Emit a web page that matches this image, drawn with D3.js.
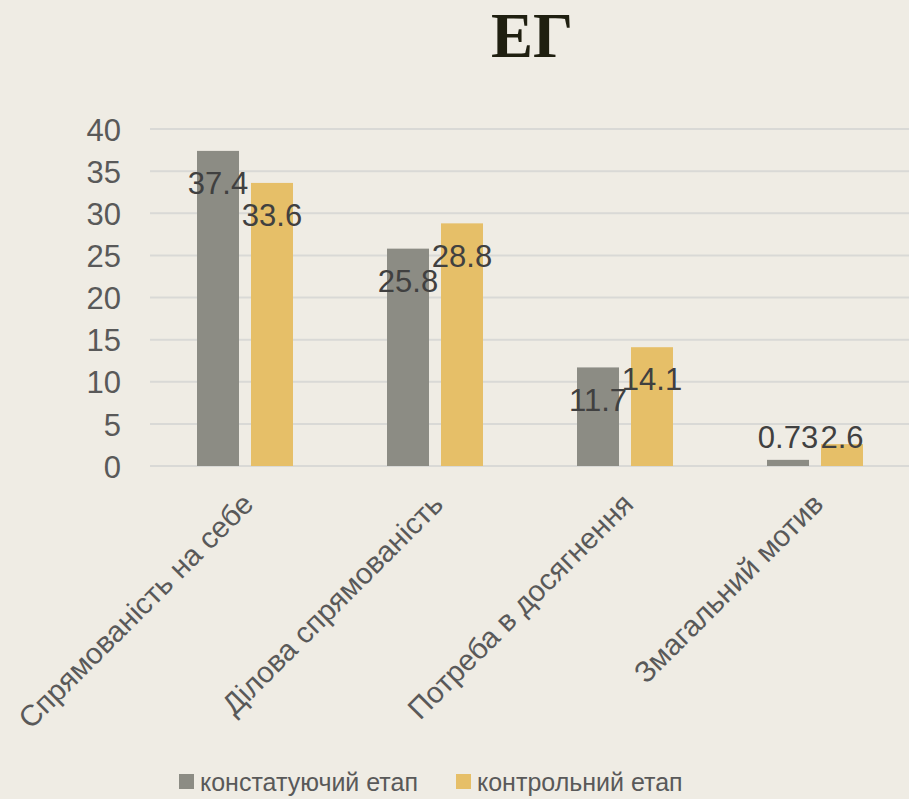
<!DOCTYPE html>
<html>
<head>
<meta charset="utf-8">
<script src="https://cdn.jsdelivr.net/npm/d3@7"></script>
<style>
  body { margin: 0; background: #efece4; }
  svg { display: block; }
</style>
</head>
<body>
<svg width="909" height="799"></svg>
<script>
// chart data
var categories = ["Спрямованість на себе", "Ділова спрямованість", "Потреба в досягнення", "Змагальний мотив"];
var seriesNames = ["констатуючий етап", "контрольний етап"];
var stage1 = [37.4, 25.8, 11.7, 0.73];
var stage2 = [33.6, 28.8, 14.1, 2.6];
var yTicks = [0, 5, 10, 15, 20, 25, 30, 35, 40];
var colors = ["#8c8c84", "#e6bf68"];

var svg = d3.select("svg"),
    width = +svg.attr("width"),
    height = +svg.attr("height");

svg.append("rect").attr("width", width).attr("height", height).attr("fill", "#efece4");

// plot area (don't call it "top", that's window.top)
var plotLeft = 150, plotRight = 910, plotTop = 129, plotBottom = 466;

var x = d3.scaleBand().domain(categories).range([plotLeft, plotRight]);
// two bars per group, 42px wide with a 12px gap
var x1 = d3.scaleBand().domain([0, 1]).range([-48, 48]).paddingInner(0.222);
var y = d3.scaleLinear().domain([0, 40]).range([plotBottom, plotTop]);

// title
svg.append("text")
    .attr("x", 532).attr("y", 57)
    .attr("text-anchor", "middle")
    .style("font-family", "'Liberation Serif', 'DejaVu Serif', serif")
    .style("font-weight", "bold")
    .style("font-size", "63px")
    .style("fill", "#1f1f10")
    .text("ЕГ");

// gridlines
svg.append("g").selectAll("line")
    .data(yTicks)
    .enter().append("line")
    .attr("x1", plotLeft).attr("x2", width)
    .attr("y1", function(d) { return y(d); })
    .attr("y2", function(d) { return y(d); })
    .attr("stroke", "#d9d9d6")
    .attr("stroke-width", 2);

// y axis
var yAxis = svg.append("g")
    .attr("transform", "translate(" + (plotLeft - 29) + ",0)")
    .call(d3.axisLeft(y).tickValues(yTicks).tickSize(0).tickPadding(0));
yAxis.select(".domain").remove();
yAxis.selectAll("text")
    .attr("dy", "0.36em")
    .style("font-family", "'Liberation Sans', Arial, sans-serif")
    .style("font-size", "31px")
    .style("fill", "#595959");

// x axis labels
var xAxis = svg.append("g")
    .attr("transform", "translate(0," + plotBottom + ")")
    .call(d3.axisBottom(x).tickSize(0).tickPadding(0));
xAxis.select(".domain").remove();
xAxis.selectAll("text")
    .attr("y", 0).attr("dy", 0)
    .attr("transform", "translate(10,40) rotate(-45)")
    .style("text-anchor", "end")
    .style("font-family", "'Liberation Sans', Arial, sans-serif")
    .style("font-size", "29.5px")
    .style("fill", "#595959");

// bars
var rows = categories.map(function(c, i) {
  return { cat: c, vals: [stage1[i], stage2[i]] };
});

var groups = svg.append("g").selectAll("g")
    .data(rows)
    .enter().append("g")
    .attr("transform", function(d) { return "translate(" + (x(d.cat) + x.bandwidth() / 2) + ",0)"; });

groups.selectAll("rect")
    .data(function(d) { return d.vals.map(function(v, k) { return { v: v, k: k }; }); })
    .enter().append("rect")
    .attr("x", function(d) { return x1(d.k); })
    .attr("width", x1.bandwidth())
    .attr("y", function(d) { return y(d.v); })
    .attr("height", function(d) { return y(0) - y(d.v); })
    .attr("fill", function(d) { return colors[d.k]; });

// value labels
groups.selectAll("text")
    .data(function(d) { return d.vals.map(function(v, k) { return { v: v, k: k }; }); })
    .enter().append("text")
    .attr("x", function(d) { return x1(d.k) + x1.bandwidth() / 2; })
    .attr("y", function(d) { return Math.min(y(d.v) + 32, y(0) - 29); })
    .attr("dy", "0.36em")
    .attr("text-anchor", "middle")
    .style("font-family", "'Liberation Sans', Arial, sans-serif")
    .style("font-size", "31px")
    .style("fill", "#404040")
    .text(function(d) { return d.v; });

// legend
var legendX = [179, 456];
var legend = svg.append("g").selectAll("g")
    .data(seriesNames)
    .enter().append("g")
    .attr("transform", function(d, i) { return "translate(" + legendX[i] + ",774)"; });
legend.append("rect")
    .attr("width", 15).attr("height", 15)
    .attr("fill", function(d, i) { return colors[i]; });
legend.append("text")
    .attr("x", 21).attr("y", 8).attr("dy", "0.36em")
    .style("font-family", "'Liberation Sans', Arial, sans-serif")
    .style("font-size", "25px")
    .style("fill", "#595959")
    .text(function(d) { return d; });
</script>
</body>
</html>
